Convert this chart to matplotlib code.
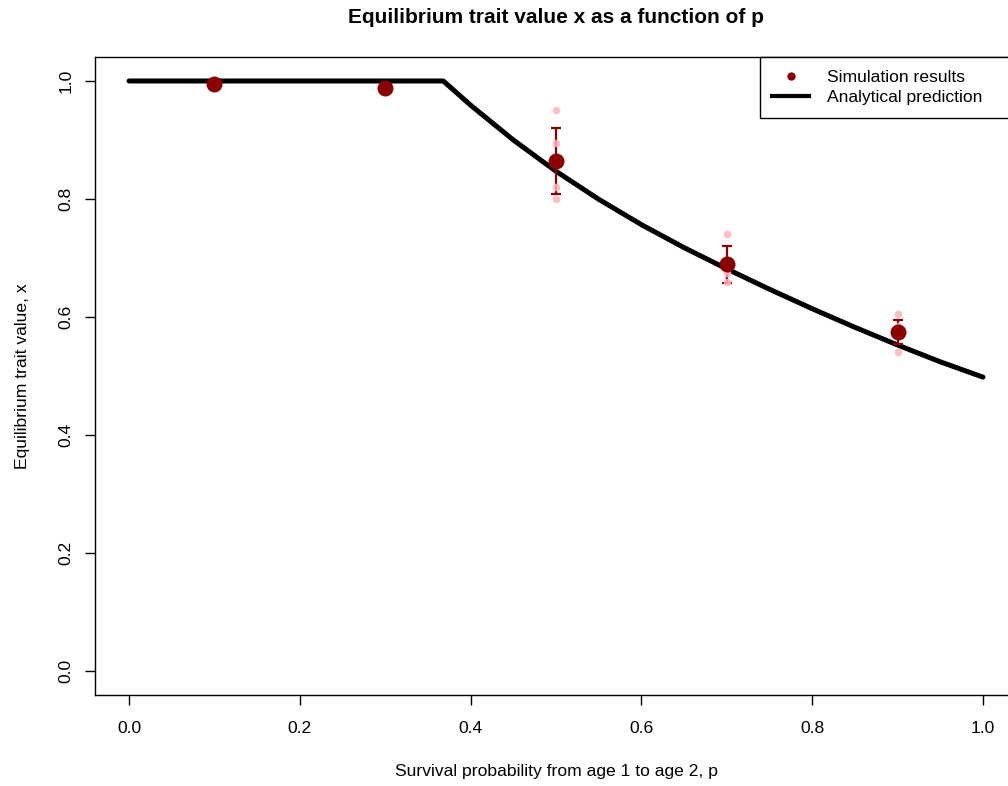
import numpy as np
import matplotlib
matplotlib.use("Agg")
import matplotlib.pyplot as plt
from matplotlib.lines import Line2D

plt.rcParams['font.family'] = ['Liberation Sans', 'DejaVu Sans']

# survival probabilities used in the simulations
p_sim = [0.1, 0.3, 0.5, 0.7, 0.9]
# mean equilibrium trait value per p and its spread
x_mean = [0.995, 0.988, 0.865, 0.689, 0.575]
x_err = [0.002, 0.002, 0.056, 0.032, 0.020]
# individual replicate runs
x_reps = [
    [0.997, 0.996, 0.995, 0.994, 0.993],
    [0.990, 0.989, 0.988, 0.987, 0.986],
    [0.951, 0.895, 0.860, 0.821, 0.800],
    [0.740, 0.690, 0.680, 0.675, 0.660],
    [0.605, 0.585, 0.575, 0.570, 0.541],
]

# analytical prediction
p_curve = [0.0, 0.368, 0.40, 0.45, 0.50, 0.55, 0.60, 0.65, 0.70,
           0.75, 0.80, 0.85, 0.90, 0.95, 1.0]
x_curve = [1.0, 1.0, 0.959, 0.900, 0.847, 0.7995, 0.7565, 0.7175, 0.6815,
           0.647, 0.614, 0.5825, 0.5525, 0.524, 0.498]

fig = plt.figure(figsize=(10.08, 7.86), dpi=100)
ax = fig.add_axes([0.0941, 0.1163, 0.915, 0.8107])

ax.plot(p_curve, x_curve, color='black', lw=3.6, solid_capstyle='round',
        solid_joinstyle='round', zorder=2)

ax.errorbar(p_sim, x_mean, yerr=x_err, fmt='none', ecolor='#8b0000',
            elinewidth=1.6, capsize=3.4, capthick=1.6, zorder=3)

for p, reps in zip(p_sim, x_reps):
    ax.plot([p] * len(reps), reps, 'o', color='#ffb3ba', alpha=0.85,
            ms=5.5, mec='none', zorder=4)

ax.plot(p_sim, x_mean, 'o', color='#8b0000', ms=11.5, mec='none', zorder=5)

ticks = np.arange(0, 1.01, 0.2)
ax.set_xlim(-0.04, 1.04)
ax.set_ylim(-0.04, 1.04)
ax.set_xticks(ticks)
ax.set_yticks(ticks)
ax.set_xticklabels([f"{v:.1f}" for v in ticks])
ax.set_yticklabels([f"{v:.1f}" for v in ticks], rotation=90, va='center')
ax.tick_params(direction='out', length=7.2, width=1, labelsize=12.6)
ax.tick_params(axis='x', pad=12)
ax.tick_params(axis='y', pad=8)
for s in ax.spines.values():
    s.set_linewidth(1)

ax.set_title("Equilibrium trait value x as a function of p",
             fontsize=15, fontweight='bold', pad=25)
ax.set_xlabel("Survival probability from age 1 to age 2, p", fontsize=12.6,
              labelpad=20)
ax.set_ylabel("Equilibrium trait value, x", fontsize=12.6, labelpad=21)

handles = [
    Line2D([], [], marker='o', ls='none', color='#8b0000', ms=6, mec='none'),
    Line2D([], [], color='black', lw=3),
]
leg = ax.legend(handles, ["Simulation results", "Analytical prediction"],
                loc='upper left', bbox_to_anchor=(0.7212, 0, 0.2788, 1.0),
                mode='expand', borderaxespad=0,
                fancybox=False, framealpha=1, edgecolor='black', fontsize=12.6,
                handlelength=2.1, handletextpad=1.0, labelspacing=0.3,
                borderpad=0.7)
leg.get_frame().set_linewidth(1)

fig.savefig("out.png", dpi=100)
